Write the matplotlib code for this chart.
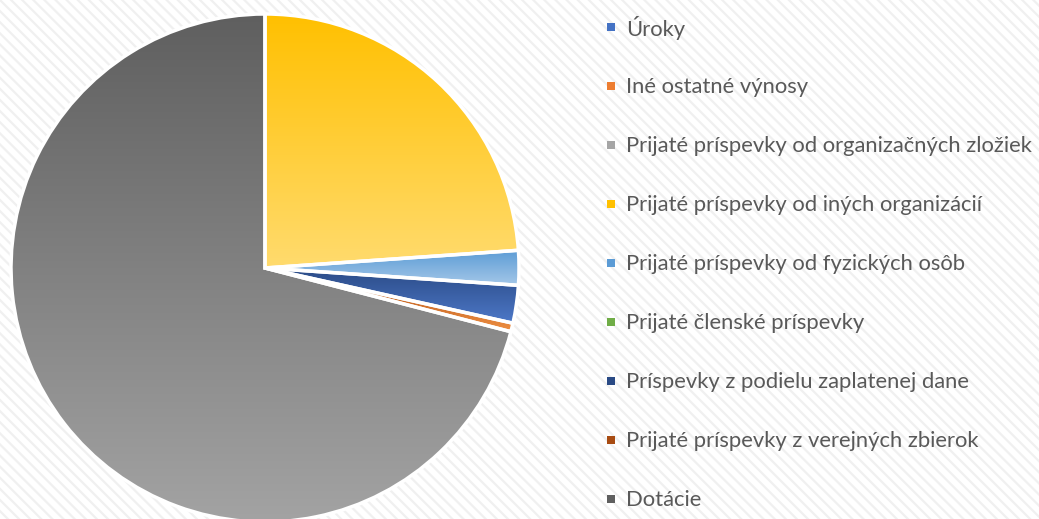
import numpy as np
import matplotlib
matplotlib.use("Agg")
import matplotlib.pyplot as plt
from matplotlib.colors import LinearSegmentedColormap
from matplotlib.patches import Rectangle

# Data (shares in %; zero categories appear only in legend)
labels = [
    "Úroky",
    "Iné ostatné výnosy",
    "Prijaté príspevky od organizačných zložiek",
    "Prijaté príspevky od iných organizácií",
    "Prijaté príspevky od fyzických osôb",
    "Prijaté členské príspevky",
    "Príspevky z podielu zaplatenej dane",
    "Prijaté príspevky z verejných zbierok",
    "Dotácie",
]
values = [0.0, 0.0, 0.0, 23.9, 2.2, 0.0, 2.4, 0.55, 71.0]

# gradient (top colour, bottom colour) per category
dark_cols = ["#4472C4", "#ED7D31", "#A5A5A5", "#FFC000", "#5B9BD5",
             "#70AD47", "#2A4A85", "#A84C12", "#5F5F5F"]
light_cols = ["#7FA0DA", "#F4A774", "#C8C8C8", "#FFDB6E", "#A3C7E8",
              "#A0CC84", "#4D78C8", "#EE8E42", "#A3A3A3"]

plt.rcParams["hatch.linewidth"] = 1.6
fig = plt.figure(figsize=(10.39, 5.19), dpi=100)
fig.patch.set_facecolor("white")

# background with faint diagonal stripes
bg = fig.add_axes([0, 0, 1, 1])
bg.add_patch(Rectangle((0, 0), 1, 1, transform=bg.transAxes, facecolor="white",
                       edgecolor="#F0F0F0", hatch="\\\\\\", linewidth=0))
bg.axis("off")

ax = fig.add_axes([0, 0, 1, 1])
ax.patch.set_alpha(0)
cx, cy, r = 265, 519 - 268, 254
wedges, _ = ax.pie(values, center=(cx, cy), radius=r, startangle=90,
                   counterclock=False,
                   wedgeprops=dict(facecolor="none", edgecolor="white", linewidth=2.5))

grad = np.linspace(0, 1, 256).reshape(-1, 1)
for w, v, c0, c1 in zip(wedges, values, dark_cols, light_cols):
    w.set_zorder(3)
    if v <= 0:
        w.set_visible(False)
        continue
    ext = w.get_path().get_extents()
    cmap = LinearSegmentedColormap.from_list("g", [c0, c1])
    im = ax.imshow(grad, cmap=cmap, extent=[ext.x0, ext.x1, ext.y0, ext.y1],
                   origin="upper", aspect="auto", zorder=2, interpolation="bilinear")
    im.set_clip_path(w)

ax.set_xlim(0, 1039)
ax.set_ylim(0, 519)
ax.set_aspect("auto")
ax.axis("off")

# legend
leg_y0, leg_dy = 27, 59.0
for i, (lab, c0, c1) in enumerate(zip(labels, dark_cols, light_cols)):
    y = leg_y0 + i * leg_dy
    fig.patches.append(Rectangle((607 / 1039, 1 - (y + 4) / 519), 8 / 1039, 8 / 519,
                                 transform=fig.transFigure, facecolor=c0,
                                 edgecolor="none", zorder=5))
    fig.text(626 / 1039, 1 - (y + 1) / 519, lab, fontsize=15.8, color="#595959",
             family="Lato", va="center", ha="left")

fig.savefig("out.png", dpi=100, facecolor="white")
